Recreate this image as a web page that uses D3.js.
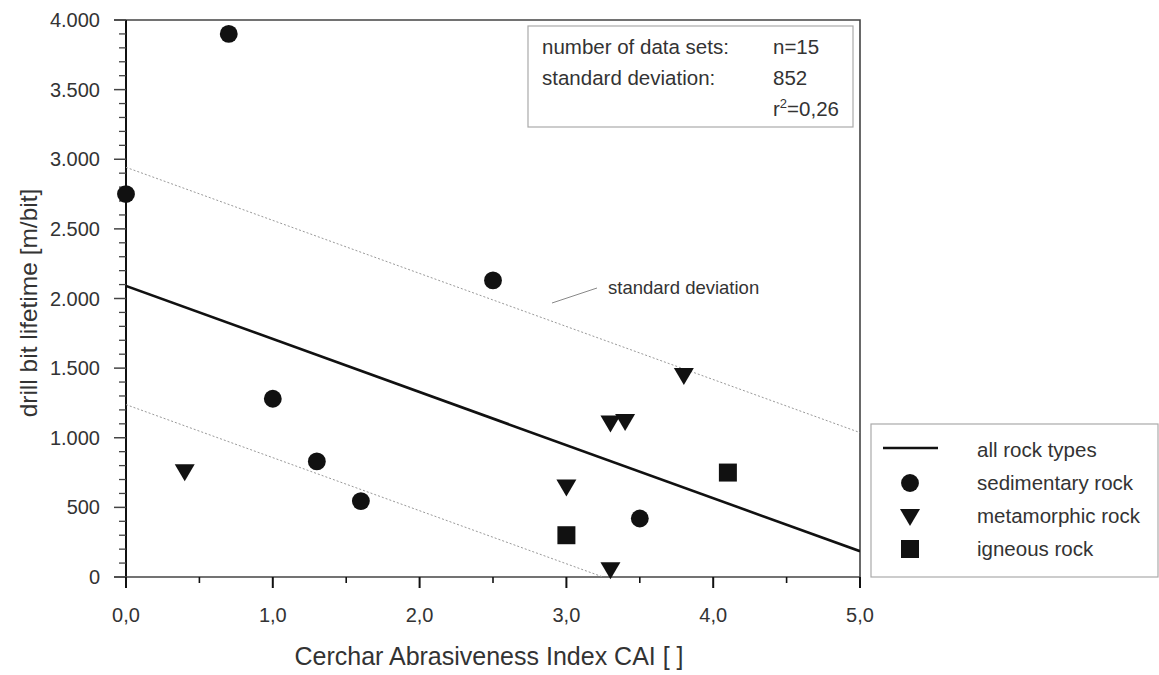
<!DOCTYPE html>
<html>
<head>
<meta charset="utf-8">
<script src="https://cdn.jsdelivr.net/npm/d3@7"></script>
<style>
  body { margin: 0; background: #fff; }
  svg { display: block; font-family: "Liberation Sans", Arial, sans-serif; }
</style>
</head>
<body>
<svg id="chart" width="1159" height="675"></svg>
<script>
// data
const sedimentary = [[0.0, 2750], [0.7, 3900], [2.5, 2130], [1.0, 1280], [1.3, 830], [1.6, 545], [3.5, 420]];
const metamorphic = [[0.4, 760], [3.3, 1110], [3.4, 1120], [3.8, 1450], [3.0, 650], [3.3, 55]];
const igneous = [[3.0, 300], [4.1, 750]];
const fit = { intercept: 2090, slope: -381, sd: 852 };
const statsRows = [["number of data sets:", "n=15"], ["standard deviation:", "852"]];
const legendItems = ["all rock types", "sedimentary rock", "metamorphic rock", "igneous rock"];

const svg = d3.select('#chart');
const pLeft = 126, pRight = 860, pTop = 20, pBottom = 577;
const x = d3.scaleLinear().domain([0, 5]).range([pLeft, pRight]);
const y = d3.scaleLinear().domain([0, 4000]).range([pBottom, pTop]);
const ink = '#111', txt = '#333';

// frame (top + right)
svg.append('path')
  .attr('d', `M${pLeft - 12},${pTop}H${pRight}V${pBottom + 11}`)
  .attr('fill', 'none').attr('stroke', '#444').attr('stroke-width', 1.6);

// y axis
const yMajor = d3.range(0, 4001, 500);
const yMinor = d3.range(0, 4001, 100).filter(d => d % 500);
const yAxis = svg.append('g').attr('transform', `translate(${pLeft},0)`);
yAxis.append('line').attr('y1', pTop).attr('y2', pBottom + 11).attr('stroke', ink).attr('stroke-width', 2);
yAxis.selectAll('.ymaj').data(yMajor).join('line')
  .attr('x1', -12).attr('x2', 0).attr('y1', d => y(d)).attr('y2', d => y(d))
  .attr('stroke', '#444').attr('stroke-width', 1.5);
yAxis.selectAll('.ymin').data(yMinor).join('line')
  .attr('x1', -7).attr('x2', 0).attr('y1', d => y(d)).attr('y2', d => y(d))
  .attr('stroke', '#444').attr('stroke-width', 1.3);
yAxis.selectAll('text').data(yMajor).join('text')
  .attr('x', -26).attr('y', d => y(d) + 7)
  .attr('text-anchor', 'end').attr('font-size', 20).attr('fill', txt)
  .text(d => d3.format(',')(d).replace(/,/g, '.'));

// x axis
const xMajor = d3.range(0, 5.01, 1);
const xMinor = [0.5, 1.5, 2.5, 3.5, 4.5];
const xAxis = svg.append('g').attr('transform', `translate(0,${pBottom})`);
xAxis.append('line').attr('x1', pLeft - 12).attr('x2', pRight).attr('stroke', '#444').attr('stroke-width', 1.6);
xAxis.selectAll('.xmaj').data(xMajor).join('line')
  .attr('x1', d => x(d)).attr('x2', d => x(d)).attr('y1', 0).attr('y2', 11)
  .attr('stroke', ink).attr('stroke-width', 2);
xAxis.selectAll('.xmin').data(xMinor).join('line')
  .attr('x1', d => x(d)).attr('x2', d => x(d)).attr('y1', 0).attr('y2', 6)
  .attr('stroke', ink).attr('stroke-width', 1.6);
xAxis.selectAll('text').data(xMajor).join('text')
  .attr('x', d => x(d)).attr('y', 45)
  .attr('text-anchor', 'middle').attr('font-size', 20).attr('fill', txt)
  .text(d => d.toFixed(1).replace('.', ','));

// axis titles
svg.append('text')
  .attr('transform', `translate(37,303) rotate(-90)`)
  .attr('text-anchor', 'middle').attr('font-size', 24.5).attr('fill', txt)
  .text('drill bit lifetime [m/bit]');
svg.append('text')
  .attr('x', 489).attr('y', 665)
  .attr('text-anchor', 'middle').attr('font-size', 25).attr('fill', txt)
  .text('Cerchar Abrasiveness Index CAI [ ]');

// regression + standard deviation lines, clipped to plot
svg.append('clipPath').attr('id', 'clip')
  .append('rect').attr('x', pLeft).attr('y', pTop).attr('width', pRight - pLeft).attr('height', pBottom - pTop);
const lineGen = d3.line().x(d => x(d[0])).y(d => y(d[1]));
const fitLine = off => [0, 5].map(v => [v, fit.intercept + off + fit.slope * v]);
const lines = svg.append('g').attr('clip-path', 'url(#clip)');
lines.append('path').attr('d', lineGen(fitLine(0)))
  .attr('fill', 'none').attr('stroke', ink).attr('stroke-width', 2.6);
[fit.sd, -fit.sd].forEach(off => {
  lines.append('path').attr('d', lineGen(fitLine(off)))
    .attr('fill', 'none').attr('stroke', '#999').attr('stroke-width', 1)
    .attr('stroke-dasharray', '2,2');
});

// standard deviation note
svg.append('line').attr('x1', 552).attr('y1', 303).attr('x2', 597).attr('y2', 288)
  .attr('stroke', '#888').attr('stroke-width', 1);
svg.append('text').attr('x', 608).attr('y', 294)
  .attr('font-size', 18.5).attr('fill', txt).text('standard deviation');

// markers
const circle = d3.symbol().type(d3.symbolCircle).size(250);
const square = d3.symbol().type(d3.symbolSquare).size(324);
const triDown = 'M-10,-7L10,-7L0,10Z';
const marks = svg.append('g').attr('fill', ink);
marks.selectAll('.sed').data(sedimentary).join('path')
  .attr('transform', d => `translate(${x(d[0])},${y(d[1])})`).attr('d', circle);
marks.selectAll('.met').data(metamorphic).join('path')
  .attr('transform', d => `translate(${x(d[0])},${y(d[1])})`).attr('d', triDown);
marks.selectAll('.ign').data(igneous).join('path')
  .attr('transform', d => `translate(${x(d[0])},${y(d[1])})`).attr('d', square);

// stats box
const stats = svg.append('g');
stats.append('rect').attr('x', 528).attr('y', 26).attr('width', 325).attr('height', 101)
  .attr('fill', '#fff').attr('stroke', '#aaa').attr('stroke-width', 1.2);
statsRows.forEach((r, i) => {
  stats.append('text').attr('x', 542).attr('y', 54 + i * 31)
    .attr('font-size', 20.5).attr('fill', txt).text(r[0]);
  stats.append('text').attr('x', 773).attr('y', 54 + i * 31)
    .attr('font-size', 20.5).attr('fill', txt).text(r[1]);
});
const r2 = stats.append('text').attr('x', 773).attr('y', 116).attr('font-size', 20.5).attr('fill', txt);
r2.append('tspan').text('r');
r2.append('tspan').attr('font-size', 13).attr('dy', -8).text('2');
r2.append('tspan').attr('dy', 8).text('=0,26');

// legend
const legend = svg.append('g');
legend.append('rect').attr('x', 871).attr('y', 424).attr('width', 287).attr('height', 153)
  .attr('fill', '#fff').attr('stroke', '#aaa').attr('stroke-width', 1.2);
const ly = i => 450 + i * 33;
legend.append('line').attr('x1', 883).attr('x2', 938).attr('y1', ly(0) - 2).attr('y2', ly(0) - 2)
  .attr('stroke', ink).attr('stroke-width', 2.6);
legend.append('path').attr('transform', `translate(910,${ly(1)})`).attr('d', circle).attr('fill', ink);
legend.append('path').attr('transform', `translate(910,${ly(2)})`).attr('d', triDown).attr('fill', ink);
legend.append('path').attr('transform', `translate(910,${ly(3)})`).attr('d', square).attr('fill', ink);
legend.selectAll('text').data(legendItems).join('text')
  .attr('x', 977).attr('y', (d, i) => ly(i) + 7)
  .attr('font-size', 20.5).attr('fill', txt).text(d => d);
</script>
</body>
</html>
